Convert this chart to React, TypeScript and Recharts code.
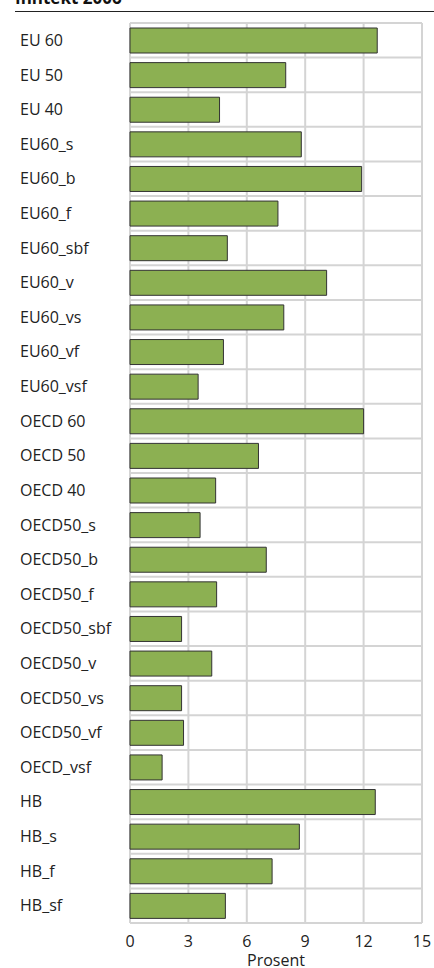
import React from 'react';
import { BarChart, Bar, XAxis, YAxis, CartesianGrid } from 'recharts';

const categories = [
  'EU 60', 'EU 50', 'EU 40', 'EU60_s', 'EU60_b', 'EU60_f', 'EU60_sbf', 'EU60_v',
  'EU60_vs', 'EU60_vf', 'EU60_vsf', 'OECD 60', 'OECD 50', 'OECD 40', 'OECD50_s',
  'OECD50_b', 'OECD50_f', 'OECD50_sbf', 'OECD50_v', 'OECD50_vs', 'OECD50_vf',
  'OECD_vsf', 'HB', 'HB_s', 'HB_f', 'HB_sf'
];

const values = [
  12.7, 8.0, 4.6, 8.8, 11.9, 7.6, 5.0, 10.1,
  7.9, 4.8, 3.5, 12.0, 6.6, 4.4, 3.6,
  7.0, 4.45, 2.65, 4.2, 2.65, 2.75,
  1.65, 12.6, 8.7, 7.3, 4.9
];

const xTicks = [0, 3, 6, 9, 12, 15];

const data = categories.map((name, i) => ({ name, value: values[i] }));

const FONT = '"Open Sans", sans-serif';
const GRID = '#d4d4d4';

const YTick = (props: any) => {
  const { y, payload } = props;
  return (
    <text x={20} y={y} dy="0.35em" textAnchor="start" fontSize={16} fontFamily={FONT} fill="#222">
      {payload.value}
    </text>
  );
};

export default function App() {
  // band boundaries for the horizontal grid
  const hLines = ({ offset }: any) => {
    const n = categories.length;
    const out: number[] = [];
    for (let i = 0; i <= n; i++) out.push(offset.top + (i * offset.height) / n);
    return out;
  };

  return (
    <div style={{ position: 'absolute', left: 0, top: 0, width: 434, height: 968, overflow: 'hidden', background: '#fff' }}>
      <div
        style={{
          position: 'absolute', left: 15, top: -11, fontFamily: FONT, fontWeight: 700,
          fontSize: 17, lineHeight: '17px', color: '#111', whiteSpace: 'nowrap'
        }}
      >
        Inntekt 2006
      </div>
      <div style={{ position: 'absolute', left: 15, top: 11, width: 419, height: 1, background: '#222' }} />
      <BarChart
        width={434}
        height={968}
        data={data}
        layout="vertical"
        margin={{ top: 23, right: 12, left: 0, bottom: 0 }}
        barSize={25}
      >
        <CartesianGrid stroke={GRID} strokeWidth={2} horizontalCoordinatesGenerator={hLines} />
        <XAxis
          type="number"
          domain={[0, 15]}
          ticks={xTicks}
          axisLine={false}
          tickLine={false}
          height={45}
          tickMargin={7}
          tick={{ fontSize: 16, fontFamily: FONT, fill: '#222' }}
          label={{ value: 'Prosent', position: 'insideBottom', offset: 2, fontSize: 16, fontFamily: FONT, fill: '#222' }}
        />
        <YAxis
          type="category"
          dataKey="name"
          width={130}
          axisLine={false}
          tickLine={false}
          interval={0}
          tick={<YTick />}
        />
        <Bar dataKey="value" fill="#8cb052" stroke="#333" strokeWidth={1} isAnimationActive={false} />
      </BarChart>
    </div>
  );
}
